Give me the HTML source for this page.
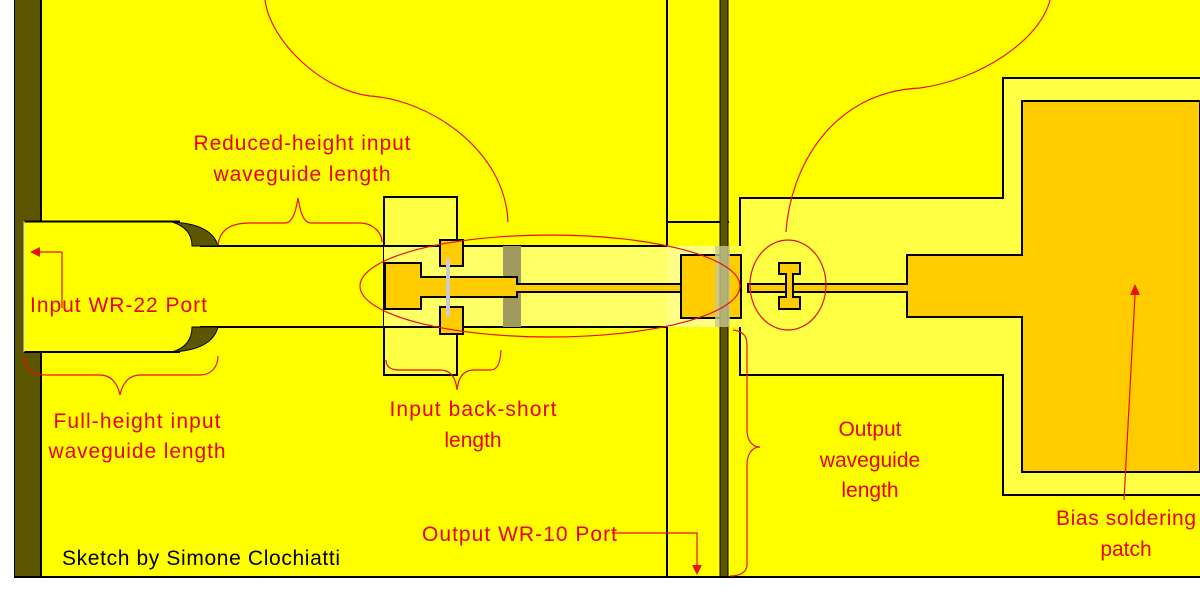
<!DOCTYPE html>
<html><head><meta charset="utf-8"><style>
html,body{margin:0;padding:0;background:#fff;}
svg{display:block;}
text{font-family:"Liberation Sans","DejaVu Sans",sans-serif;fill:#e8000a;font-size:21px;}
</style></head><body>
<svg width="1200" height="599" viewBox="0 0 1200 599" xmlns="http://www.w3.org/2000/svg">
<rect x="0" y="0" width="1200" height="599" fill="#fff"/>
<rect x="14" y="0" width="1186" height="578" fill="#ffff00"/>
<!-- left olive bar -->
<rect x="15" y="0" width="26" height="577" fill="#5c5600"/>
<line x1="14.5" y1="0" x2="14.5" y2="577" stroke="#000"/>
<line x1="41" y1="0" x2="41" y2="577" stroke="#000" stroke-width="2"/>
<!-- verticals middle -->
<line x1="667" y1="0" x2="667" y2="577" stroke="#000" stroke-width="2"/>
<line x1="667" y1="222" x2="729" y2="222" stroke="#000" stroke-width="2"/>
<!-- back-short block -->
<rect x="384" y="197" width="73" height="178" fill="#ffff44" stroke="#000" stroke-width="2"/>
<!-- reduced waveguide light channel -->
<rect x="384" y="246" width="356" height="81" fill="#ffff66"/>
<rect x="667" y="246" width="73" height="81" fill="#ffff88"/>
<line x1="200" y1="246" x2="440" y2="246" stroke="#000" stroke-width="2"/>
<line x1="463" y1="246" x2="667" y2="246" stroke="#000" stroke-width="2"/>
<line x1="200" y1="327" x2="440" y2="327" stroke="#000" stroke-width="2"/>
<line x1="463" y1="327" x2="667" y2="327" stroke="#000" stroke-width="2"/>
<!-- full height waveguide -->
<rect x="24" y="221" width="160" height="131" fill="#ffff00"/>
<line x1="24" y1="221.5" x2="180" y2="221.5" stroke="#000" stroke-width="2"/>
<line x1="24" y1="352" x2="180" y2="352" stroke="#000" stroke-width="2"/>
<line x1="24" y1="221" x2="24" y2="352" stroke="#ddd" stroke-width="1"/>
<path d="M172,222 Q212,224 218,246 L192,246 Q192,228 172,222 Z" fill="#5c5600" stroke="#000" stroke-width="1"/>
<path d="M172,352 Q212,350 218,327 L192,327 Q192,346 172,352 Z" fill="#5c5600" stroke="#000" stroke-width="1"/>
<!-- grey bar -->
<rect x="503" y="246" width="18" height="81" fill="#a09a5e"/>
<!-- T pad -->
<path d="M385,263 H421 V277 H517 V284 H681 V292 H517 V297 H421 V309 H385 Z" fill="#ffcc00" stroke="#000" stroke-width="2"/>
<!-- small pads -->
<rect x="440" y="240" width="23" height="26" fill="#ffcc00" stroke="#000" stroke-width="2"/>
<rect x="440" y="307" width="23" height="27" fill="#ffcc00" stroke="#000" stroke-width="2"/>
<line x1="448" y1="258" x2="448" y2="317" stroke="#ccc" stroke-width="4"/>
<!-- right region -->
<path d="M729,0 H1200 V577 H729 Z" fill="#ffff00"/>
<path d="M740,198 H1003 V78 H1200 V495 H1003 V375 H740 V327 H729 V246 H740 Z" fill="#ffff44"/>
<path d="M740,246 V198 H1003 V78 H1200" fill="none" stroke="#000" stroke-width="2"/>
<path d="M740,327 V375 H1003 V495 H1200" fill="none" stroke="#000" stroke-width="2"/>
<path d="M1200,101 H1022 V255 H907 V284 H748 V292 H907 V317 H1022 V472 H1200 Z" fill="#ffcc00" stroke="#000" stroke-width="2"/>
<!-- right pad near bar -->
<rect x="681" y="255" width="60" height="63" fill="#ffcc00" stroke="#000" stroke-width="2"/>
<!-- dark bar -->
<rect x="720" y="0" width="8" height="577" fill="#5c5600"/>
<line x1="720" y1="0" x2="720" y2="577" stroke="#000" stroke-width="1"/>
<line x1="728" y1="0" x2="728" y2="577" stroke="#000" stroke-width="1"/>
<rect x="715" y="246" width="15" height="81" fill="#c8c890" opacity="0.8"/>
<!-- bottom edge -->
<line x1="14" y1="577" x2="1200" y2="577" stroke="#000" stroke-width="2"/>
<!-- I filter -->
<path d="M779,263 H800 V274 H793 V297 H800 V309 H779 V297 H786 V274 H779 Z" fill="#ffcc00" stroke="#000" stroke-width="2"/>
<!-- red annotations -->
<g fill="none" stroke="#e81010" stroke-width="1.2">
<ellipse cx="550" cy="286" rx="190" ry="51"/>
<ellipse cx="788" cy="285" rx="38" ry="45"/>
<path d="M508,222 C505,150 430,100 370,96 C320,90 270,40 265,0"/>
<path d="M786,232 C790,170 830,92 920,88 C980,80 1040,40 1050,0"/>
<path d="M218,245 C220,230 230,223 250,223 L285,223 C293,223 296,210 298,198 C300,210 303,223 311,223 L360,223 C372,223 382,232 382,242"/>
<path d="M24,356 C24,368 30,375 45,375 L100,375 C112,375 118,385 120,395 C122,385 128,375 140,375 L200,375 C212,375 218,366 218,356"/>
<path d="M386,360 C386,368 392,370 400,370 L440,370 C452,370 456,380 457,390 C458,380 462,370 474,370 L490,370 C497,370 500,365 501,350"/>
<path d="M733,330 C742,331 747,335 747,345 L747,430 C747,440 752,447 760,447 C752,447 747,454 747,465 L747,565 C747,572 740,576 730,576"/>
<path d="M62,252 V308"/>
<path d="M612,533 H697 V565"/>
<path d="M1124,500 L1135,295"/>
</g>
<polygon points="30,252 40,247 40,257" fill="#e81010"/>
<line x1="40" y1="252" x2="62" y2="252" stroke="#e81010" stroke-width="1.2"/>
<polygon points="692,565 702,565 697,575" fill="#e81010"/>
<polygon points="1130,295 1140,295 1135,284" fill="#e81010"/>
<!-- text -->
<text x="302" y="150" text-anchor="middle" textLength="217">Reduced-height input</text>
<text x="302" y="181" text-anchor="middle" textLength="177">waveguide length</text>
<text x="30" y="312" textLength="177">Input WR-22 Port</text>
<text x="137" y="428" text-anchor="middle" textLength="167">Full-height input</text>
<text x="137" y="458" text-anchor="middle" textLength="177">waveguide length</text>
<text x="473" y="416" text-anchor="middle" textLength="167">Input back-short</text>
<text x="473" y="447" text-anchor="middle">length</text>
<text x="870" y="436" text-anchor="middle">Output</text>
<text x="870" y="467" text-anchor="middle">waveguide</text>
<text x="870" y="497" text-anchor="middle">length</text>
<text x="422" y="541" textLength="195">Output WR-10 Port</text>
<text x="1126" y="525" text-anchor="middle" textLength="140">Bias soldering</text>
<text x="1126" y="556" text-anchor="middle">patch</text>
<text x="62" y="565" textLength="278" style="fill:#000">Sketch by Simone Clochiatti</text>
</svg>
</body></html>
